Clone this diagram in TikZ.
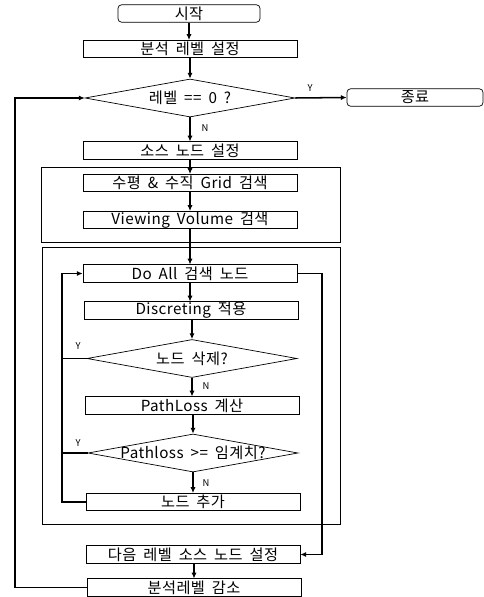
\documentclass[tikz,border=0pt]{standalone}
\usepackage{fontspec}
\newfontfamily\krfont[LetterSpace=3, WordSpace=1.8]{Noto Sans CJK KR}
\usetikzlibrary{arrows.meta, shapes.geometric, calc}
\tikzset{
  proc/.style = {
    draw, line width=0.6pt,
    minimum width=6.42cm, minimum height=0.52cm,
    inner sep=0pt, font=\krfont\fontsize{13}{15}\selectfont
  },
  term/.style = {proc, rounded corners=3pt},
  cond/.style = {
    draw, diamond, line width=0.6pt,
    minimum width=6.3cm, minimum height=1.14cm, inner sep=0pt
  },
  ctxt/.style = {font=\krfont\fontsize{13}{15}\selectfont, inner sep=0pt},
  grp/.style  = {draw, line width=0.6pt},
  flow/.style = {-{Latex[length=5pt,width=4.5pt]}, line width=1.3pt},
  lnk/.style  = {line width=1.3pt},
  yn/.style   = {font=\krfont\fontsize{8}{9}\selectfont, inner sep=1pt}
}

\begin{document}
\begin{tikzpicture}[x=0.03cm, y=-0.03cm]
  \useasboundingbox (0,0) rectangle (484,597);

  %% Loop rails
  \coordinate (ox) at (15,0);
  \coordinate (lx) at (62,0);
  \coordinate (rx) at (322,0);

  %% Group frames
  \draw[grp] (41,167) rectangle (340,242);
  \draw[grp] (42,247) rectangle (340,524);

  %% Boxes
  \node[term, minimum width=4.26cm] (start) at (189,13.5) {시작};
  \node[proc] (anal) at (190,49) {분석 레벨 설정};
  \node[cond] (d1) at (190,98) {};
  \node[ctxt] (d1t) at (d1.center) {레벨 == 0 ?};
  \node[term, minimum width=4.08cm] (stop) at (415,97.5) {종료};
  \node[proc] (src) at (190,150.5) {소스 노드 설정};
  \node[proc] (grid) at (190,183) {수평 \& 수직 Grid 검색};
  \node[proc] (view) at (190,220) {Viewing Volume 검색};
  \node[proc] (doall) at (190,273.5) {Do All 검색 노드};
  \node[proc] (disc) at (191,310.5) {Discreting 적용};
  \node[cond] (d2) at (192,358.5) {};
  \node[ctxt] (d2t) at (d2.center) {노드 삭제?};
  \node[proc] (path) at (192,405.5) {PathLoss 계산};
  \node[cond] (d3) at (193,453) {};
  \node[ctxt] (d3t) at (d3.center) {Pathloss >= 임계치?};
  \node[proc] (add) at (193,502) {노드 추가};
  \node[proc] (next) at (193,554.5) {다음 레벨 소스 노드 설정};
  \node[proc] (dec) at (194,587.5) {분석레벨 감소};

  %% Main flow
  \draw[flow] (start.south) -- (start.south |- anal.north);
  \draw[flow] (anal) -- (anal.south |- d1.north);
  \draw[flow] (d1.east) -- (stop.west);
  \draw[flow] (d1.south) -- (d1.south |- src.north);
  \draw[flow] (src) -- (src.south |- grid.north);
  \draw[flow] (grid) -- (grid.south |- view.north);
  \draw[flow] (view) -- (view.south |- doall.north);
  \draw[flow] (doall) -- (doall.south |- disc.north);
  \draw[flow] (disc.south) -- (disc.south -| d2.north) -- (d2.north);
  \draw[flow] (d2.south) -- (d2.south |- path.north);
  \draw[flow] (path.south) -- (path.south -| d3.north) -- (d3.north);
  \draw[flow] (d3.south) -- (d3.south |- add.north);
  \draw[flow] (next.south) -- (next.south -| dec.north) -- (dec.north);

  %% Inner loop
  \draw[lnk] (d2.west) -- (d2.west -| lx);
  \draw[lnk] (d3.west) -- (d3.west -| lx);
  \draw[flow] (add.west) -- (add.west -| lx) |- (doall.west);
  \draw[flow] (doall.east) -- (doall.east -| rx) |- (next.east);

  %% Outer loop
  \draw[flow] (dec.west) -- (dec.west -| ox) |- (d1.west);

  %% Branch labels
  \node[yn] (y1) at (310,88) {Y};
  \node[yn] (n1) at (205,128) {N};
  \node[yn] (y2) at (78,346) {Y};
  \node[yn] (n2) at (206,386) {N};
  \node[yn] (y3) at (78,443) {Y};
  \node[yn] (n3) at (206,483) {N};
\end{tikzpicture}
\end{document}
